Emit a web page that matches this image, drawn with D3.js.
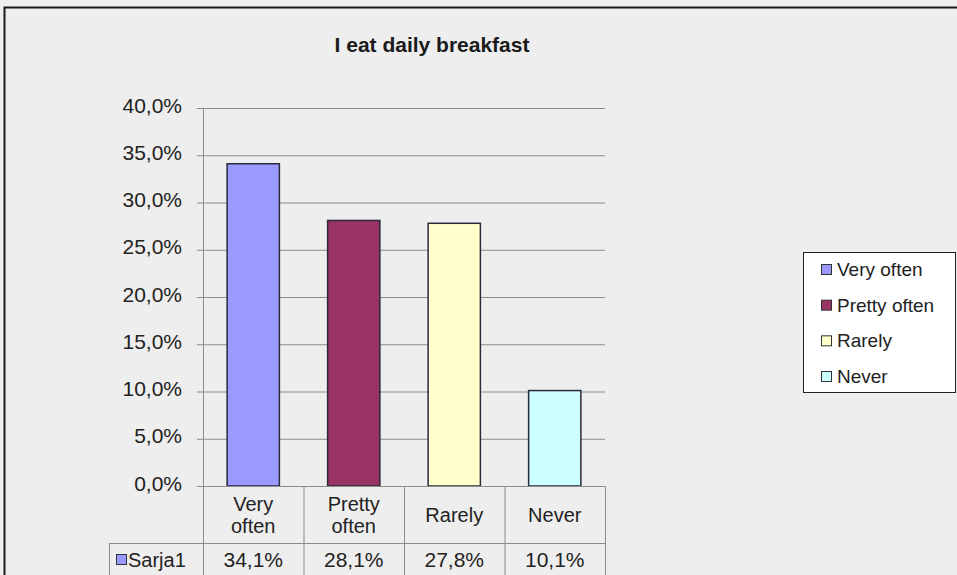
<!DOCTYPE html>
<html>
<head>
<meta charset="utf-8">
<script src="https://cdn.jsdelivr.net/npm/d3@7"></script>
<style>
  body { margin: 0; background: #eeeeee; }
  svg { display: block; font-family: "Liberation Sans", Arial, sans-serif; }
</style>
</head>
<body>
<svg id="chart" width="957" height="575"></svg>
<script>
// chart data
var title = "I eat daily breakfast";
var categories = ["Very often", "Pretty often", "Rarely", "Never"];
var categoryLines = [["Very", "often"], ["Pretty", "often"], ["Rarely"], ["Never"]];
var values = [34.1, 28.1, 27.8, 10.1];
var colors = ["#9999ff", "#993366", "#ffffcc", "#ccffff"];
var seriesName = "Sarja1";
var yTicks = [0, 5, 10, 15, 20, 25, 30, 35, 40];

function pct(v) { return v.toFixed(1).replace(".", ",") + "%"; }

var svg = d3.select("#chart");

// outer frame (top and left edge visible)
svg.append("path").attr("d", "M4.5,575V7.5H957").attr("fill", "none").attr("stroke", "#1a1a1a").attr("stroke-width", 2);

svg.append("text")
	.attr("x", 432).attr("y", 52)
	.attr("text-anchor", "middle")
	.attr("font-size", 21).attr("font-weight", "bold")
	.attr("fill", "#1a1a1a")
	.text(title);

var plotLeft = 203, plotRight = 605, plotTop = 108, plotBottom = 486;

var x = d3.scaleBand()
		.domain(categories)
		.range([plotLeft, plotRight])
		.paddingInner(0.48)
		.paddingOuter(0.24);
var col = d3.scaleBand()
		.domain(categories)
		.range([plotLeft, plotRight]);
var y = d3.scaleLinear()
		.domain([0, 40])
		.range([plotBottom, plotTop]);

// gridlines + y labels
var yAxis = d3.axisLeft(y)
		.tickValues(yTicks)
		.tickSize(-(plotRight - plotLeft))
		.tickPadding(21)
		.tickFormat(function(d) { return pct(d); });
var ga = svg.append("g")
		.attr("transform", "translate(" + plotLeft + ",0)")
		.call(yAxis);
ga.select(".domain").remove();
ga.selectAll(".tick line").attr("stroke", "#8c8c8c").attr("x1", -6);
ga.selectAll(".tick text")
	.attr("font-size", 21).attr("fill", "#222")
	.attr("font-family", "Liberation Sans, Arial, sans-serif")
	.attr("dy", "0.2em");

svg.append("line")
	.attr("x1", plotLeft + 0.5).attr("x2", plotLeft + 0.5)
	.attr("y1", plotTop).attr("y2", 575)
	.attr("stroke", "#8c8c8c");

// bars
svg.selectAll("rect.bar")
	.data(values)
	.enter()
	.append("rect")
	.attr("class", "bar")
	.attr("x", function(d, i) { return x(categories[i]); })
	.attr("y", function(d) { return y(d); })
	.attr("width", x.bandwidth())
	.attr("height", function(d) { return y(0) - y(d); })
	.attr("fill", function(d, i) { return colors[i]; })
	.attr("stroke", "#2a2a3a")
	.attr("stroke-width", 1.5);

// data table
var rowSplit = 543;
var tbl = svg.append("g").attr("stroke", "#8c8c8c").attr("fill", "none");
tbl.append("line").attr("x1", plotLeft - 6).attr("x2", plotRight).attr("y1", plotBottom + 0.5).attr("y2", plotBottom + 0.5);
tbl.append("line").attr("x1", 109).attr("x2", plotRight).attr("y1", rowSplit + 0.5).attr("y2", rowSplit + 0.5);
tbl.append("line").attr("x1", 109.5).attr("x2", 109.5).attr("y1", rowSplit).attr("y2", 575);
categories.forEach(function(c) {
	var xr = col(c) + col.bandwidth();
	tbl.append("line").attr("x1", xr + 0.5).attr("x2", xr + 0.5).attr("y1", plotBottom).attr("y2", 575);
});

categories.forEach(function(c, i) {
	var lines = categoryLines[i];
	var cx = col(c) + col.bandwidth() / 2;
	var t = svg.append("text")
		.attr("text-anchor", "middle")
		.attr("font-size", 20).attr("fill", "#222");
	var y0 = lines.length == 1 ? 522 : 511;
	lines.forEach(function(l, k) {
		t.append("tspan").attr("x", cx).attr("y", y0 + k * 22).text(l);
	});
	svg.append("text")
		.attr("x", cx).attr("y", 567)
		.attr("text-anchor", "middle")
		.attr("font-size", 21).attr("fill", "#222")
		.text(pct(values[i]));
});

svg.append("rect").attr("x", 116.5).attr("y", 554.5).attr("width", 10).attr("height", 10)
	.attr("fill", colors[0]).attr("stroke", "#333");
svg.append("text").attr("x", 128).attr("y", 567)
	.attr("font-size", 20).attr("fill", "#222").text(seriesName);

// legend
var lg = svg.append("g");
lg.append("rect").attr("x", 803.5).attr("y", 252.5).attr("width", 152).attr("height", 140)
	.attr("fill", "#fff").attr("stroke", "#222");
var legendY = d3.scalePoint().domain(categories).range([269, 376]);
categories.forEach(function(c, i) {
	lg.append("rect").attr("x", 821.5).attr("y", legendY(c) - 4.5).attr("width", 10).attr("height", 10)
		.attr("fill", colors[i]).attr("stroke", "#333");
	lg.append("text").attr("x", 837).attr("y", legendY(c) + 7)
		.attr("font-size", 19).attr("fill", "#222").text(c);
});
</script>
</body>
</html>
